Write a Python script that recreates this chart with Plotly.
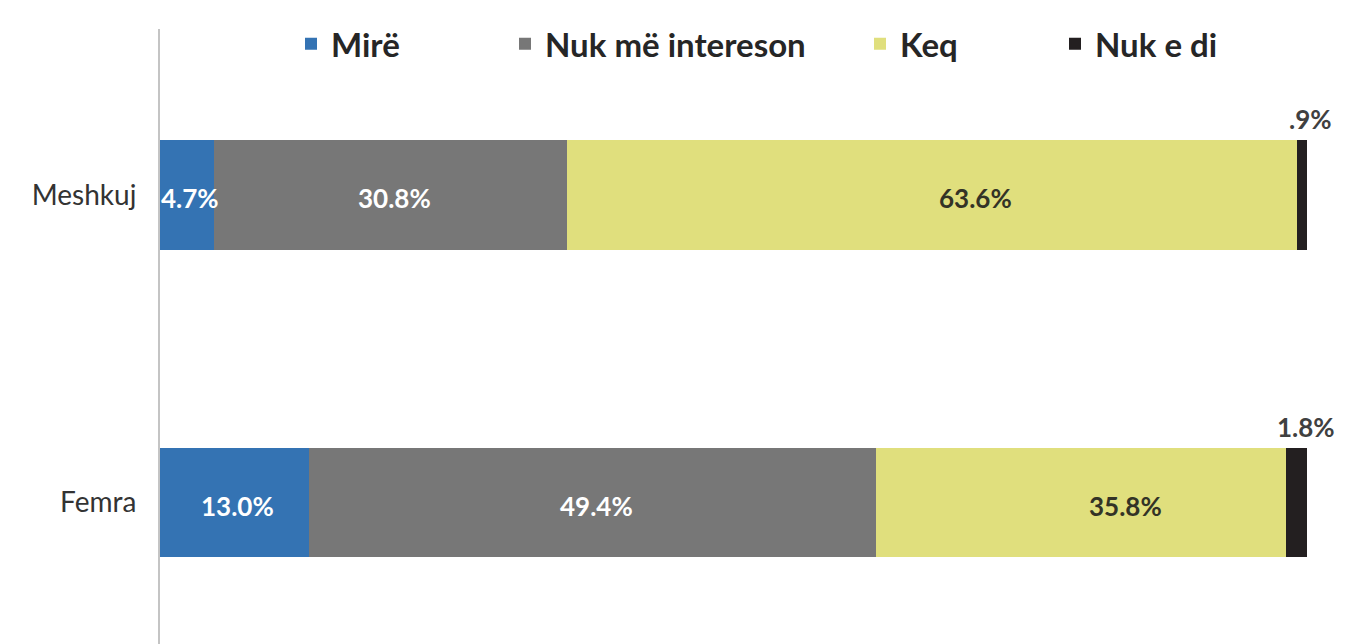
import plotly.graph_objects as go

# ---- data ----
categories = ["Femra", "Meshkuj"]
series_names = ["Mirë", "Nuk më intereson", "Keq", "Nuk e di"]
mire = [13.0, 4.7]
nuk_me_intereson = [49.4, 30.8]
keq = [35.8, 63.6]
nuk_e_di = [1.8, 0.9]

values = [mire, nuk_me_intereson, keq, nuk_e_di]

# ---- styles ----
colors = ["#3473B3", "#777777", "#E0DF7D", "#231F20"]
label_colors = ["#FFFFFF", "#FFFFFF", "#333326", "#404040"]
label_xshift = [3, 4, 44, 9]
legend_x_px = [283, 497, 852, 1047]
FONT = "Lato"
W, H = 1362, 644
L, R, T, B = 152, 63, 12, 8
plot_w = W - L - R
plot_h = H - T - B

fig = go.Figure()
legend_ids = ["legend", "legend2", "legend3", "legend4"]
for i, name in enumerate(series_names):
    fig.add_trace(go.Bar(
        y=categories, x=values[i], name=name, orientation="h",
        marker=dict(color=colors[i], line=dict(width=0)),
        width=0.356, legend=legend_ids[i], hoverinfo="x+name",
    ))

def fmt(v):
    s = f"{v:.1f}%"
    if s.startswith("0."):
        s = s[1:]
    return s

annotations = []
for ci, cat in enumerate(categories):
    cum = 0.0
    for si in range(len(series_names)):
        v = values[si][ci]
        center = cum + v / 2
        cum += v
        if si == 3:
            annotations.append(dict(
                x=center, y=cat, xref="x", yref="y", text=fmt(v), showarrow=False,
                yanchor="bottom", yshift=58, xshift=label_xshift[si],
                font=dict(family=FONT, size=26, color=label_colors[si], weight="bold"),
            ))
        else:
            annotations.append(dict(
                x=center, y=cat, xref="x", yref="y", text=fmt(v), showarrow=False,
                xshift=label_xshift[si], yshift=-3,
                font=dict(family=FONT, size=26, color=label_colors[si], weight="bold"),
            ))

layout_legends = {}
for i, lid in enumerate(legend_ids):
    layout_legends[lid] = dict(
        x=(legend_x_px[i] - L) / plot_w, y=(H - B - 27) / plot_h,
        xanchor="left", yanchor="middle", orientation="h",
        bgcolor="rgba(0,0,0,0)",
        font=dict(family=FONT, size=33, color="#262626", weight="bold"),
    )

fig.update_layout(
    width=W, height=H,
    margin=dict(l=L, r=R, t=T, b=B, pad=0),
    barmode="stack",
    plot_bgcolor="white", paper_bgcolor="white",
    showlegend=True,
    annotations=annotations,
    xaxis=dict(range=[0, 100], visible=False, fixedrange=True),
    yaxis=dict(
        range=[-0.46, 1.54], showline=True, linecolor="#C4C4C4", linewidth=2,
        showgrid=False, zeroline=False, ticks="", ticklabelstandoff=16,
        tickfont=dict(family=FONT, size=28, color="#333333"),
    ),
    **layout_legends,
)

fig.write_html("out.html")
